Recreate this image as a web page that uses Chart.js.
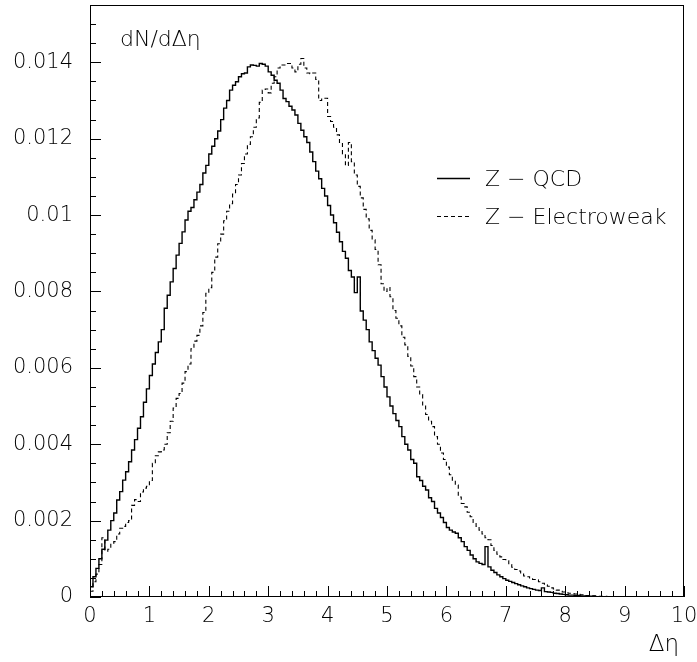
<!DOCTYPE html>
<html>
<head>
<meta charset="utf-8">
<script src="https://cdn.jsdelivr.net/npm/chart.js@4.4.0/dist/chart.umd.min.js"></script>
<style>
  html, body { margin: 0; padding: 0; background: #fff; }
  #wrap { width: 697px; height: 662px; position: relative; }
  canvas { display: block; }
</style>
</head>
<body>
<div id="wrap"><canvas id="c" width="697" height="662"></canvas></div>
<script>
// ---- data (histograms, 200 bins of width 0.05 from 0 to 10) ----
const xMin = 0;
const xMax = 10;
const binWidth = 0.05;

const qcd = [
  0.00027,0.00053,0.00075,0.00100,0.00125,0.00149,0.00175,0.00200,0.00220,0.00254,
  0.00276,0.00306,0.00328,0.00354,0.00385,0.00412,0.00442,0.00472,0.00510,0.00545,
  0.00580,0.00610,0.00640,0.00668,0.00700,0.00756,0.00790,0.00825,0.00860,0.00895,
  0.00926,0.00956,0.00987,0.01010,0.01020,0.01040,0.01060,0.01080,0.01110,0.01130,
  0.01160,0.01180,0.01200,0.01220,0.01250,0.01280,0.01300,0.01327,0.01340,0.01349,
  0.01362,0.01370,0.01372,0.01388,0.01393,0.01392,0.01390,0.01397,0.01395,0.01390,
  0.01375,0.01366,0.01353,0.01345,0.01327,0.01305,0.01297,0.01285,0.01275,0.01262,
  0.01240,0.01222,0.01205,0.01190,0.01165,0.01140,0.01115,0.01095,0.01070,0.01050,
  0.01025,0.01000,0.00980,0.00955,0.00930,0.00905,0.00887,0.00855,0.00838,0.00797,
  0.00838,0.00749,0.00725,0.00700,0.00668,0.00645,0.00625,0.00607,0.00577,0.00550,
  0.00524,0.00500,0.00480,0.00462,0.00446,0.00420,0.00400,0.00385,0.00360,0.00350,
  0.00315,0.00305,0.00290,0.00280,0.00260,0.00250,0.00232,0.00220,0.00208,0.00195,
  0.00182,0.00175,0.00170,0.00167,0.00155,0.00145,0.00132,0.00122,0.00110,0.00100,
  0.00092,0.00088,0.00085,0.00132,0.00079,0.00070,0.00064,0.00058,0.00053,0.00048,
  0.00044,0.00041,0.00038,0.00035,0.00032,0.00029,0.00027,0.00024,0.00022,0.00020,
  0.00018,0.00017,0.00024,0.00014,0.00013,0.00012,0.00010,0.00009,0.00008,0.00007,
  0.00006,0.00005,0.00005,0.00004,0.00004,0.00003,0.00003,0.00002,0.00002,0.00002,
  0.00001,0.00001,0.00001,0.00001,0,0,0,0,0,0,
  0,0,0,0,0,0,0,0,0,0,
  0,0,0,0,0,0,0,0,0,0
];

const electroweak = [
  0.00015,0.00040,0.00060,0.00085,0.00155,0.00120,0.00125,0.00140,0.00145,0.00165,
  0.00180,0.00185,0.00195,0.00200,0.00240,0.00255,0.00250,0.00275,0.00285,0.00290,
  0.00305,0.00350,0.00370,0.00380,0.00385,0.00400,0.00430,0.00460,0.00495,0.00520,
  0.00533,0.00560,0.00590,0.00610,0.00650,0.00670,0.00685,0.00710,0.00745,0.00795,
  0.00810,0.00850,0.00890,0.00925,0.00950,0.00985,0.01010,0.01030,0.01055,0.01080,
  0.01105,0.01135,0.01160,0.01185,0.01205,0.01230,0.01254,0.01295,0.01327,0.01330,
  0.01320,0.01345,0.01362,0.01385,0.01393,0.01393,0.01397,0.01397,0.01385,0.01375,
  0.01395,0.01410,0.01385,0.01372,0.01370,0.01372,0.01355,0.01300,0.01306,0.01306,
  0.01258,0.01245,0.01230,0.01210,0.01190,0.01160,0.01130,0.01190,0.01140,0.01105,
  0.01075,0.01045,0.01015,0.00990,0.00960,0.00935,0.00910,0.00870,0.00820,0.00800,
  0.00810,0.00786,0.00750,0.00730,0.00710,0.00680,0.00660,0.00630,0.00605,0.00577,
  0.00550,0.00530,0.00500,0.00478,0.00460,0.00446,0.00420,0.00400,0.00377,0.00360,
  0.00340,0.00320,0.00306,0.00293,0.00262,0.00245,0.00236,0.00222,0.00210,0.00195,
  0.00185,0.00175,0.00165,0.00155,0.00150,0.00135,0.00122,0.00112,0.00105,0.00098,
  0.00095,0.00085,0.00078,0.00072,0.00068,0.00060,0.00055,0.00053,0.00048,0.00046,
  0.00045,0.00040,0.00036,0.00032,0.00028,0.00024,0.00021,0.00018,0.00015,0.00013,
  0.00011,0.00010,0.00009,0.00008,0.00007,0.00006,0.00005,0.00004,0.00004,0.00003,
  0.00003,0.00002,0.00002,0.00002,0.00001,0.00001,0.00001,0,0,0,
  0,0,0,0,0,0,0,0,0,0,
  0,0,0,0,0,0,0,0,0,0
];

const xTickValues = [0,1,2,3,4,5,6,7,8,9,10];
const xTickLabels = ['0','1','2','3','4','5','6','7','8','9','10'];
const yTickValues = [0,0.002,0.004,0.006,0.008,0.010,0.012,0.014];
const yTickLabels = ['0','0.002','0.004','0.006','0.008','0.01','0.012','0.014'];
const yMax = 0.0155;
const xMinorStep = 0.2;
const yMinorStep = 0.0005;

const seriesNames = ['Z \u2212 QCD', 'Z \u2212 Electroweak'];
const yTitle = 'dN/d\u0394\u03B7';
const xTitle = '\u0394\u03B7';

// ---- build step-histogram points from bin lower edges ----
function histPoints(vals) {
  const pts = vals.map((v, i) => ({ x: xMin + i * binWidth, y: v }));
  pts.push({ x: xMax, y: vals[vals.length - 1] });
  return pts;
}

const FONT = '"DejaVu Sans", "Liberation Sans", sans-serif';

const decor = {
  id: 'decor',
  afterDatasetsDraw(chart) {
    const { ctx, chartArea: a, scales } = chart;
    const xs = scales.x, ys = scales.y;
    ctx.save();
    ctx.strokeStyle = '#000';
    ctx.lineWidth = 1;
    // frame
    ctx.strokeRect(a.left + 0.5, a.top + 0.5, a.right - a.left - 1, a.bottom - a.top - 1);
    ctx.beginPath();
    // x ticks (inside, from bottom)
    for (let k = 0; k <= Math.round((xMax - xMin) / xMinorStep); k++) {
      const v = xMin + k * xMinorStep;
      const px = Math.round(xs.getPixelForValue(v)) + 0.5;
      const major = Math.abs(v - Math.round(v)) < 1e-9;
      const len = major ? 11 : 6;
      ctx.moveTo(px, a.bottom);
      ctx.lineTo(px, a.bottom - len);
    }
    // y ticks (inside, from left)
    for (let k = 0; k * yMinorStep <= yMax + 1e-12; k++) {
      const v = k * yMinorStep;
      const py = Math.round(ys.getPixelForValue(v)) + 0.5;
      const major = (k % 4) === 0;
      const len = major ? 11 : 6;
      ctx.moveTo(a.left, py);
      ctx.lineTo(a.left + len, py);
    }
    ctx.stroke();

    // texts
    ctx.fillStyle = '#000';
    ctx.textBaseline = 'alphabetic';
    ctx.textAlign = 'left';
    ctx.font = '300 22px ' + FONT;
    ctx.fillText(yTitle, 120, 46);
    ctx.font = '300 23px ' + FONT;
    ctx.textAlign = 'right';
    ctx.fillText(xTitle, 679, 651);

    // legend
    ctx.textAlign = 'left';
    ctx.font = '300 22px ' + FONT;
    ctx.lineWidth = 1.3;
    ctx.beginPath();
    ctx.moveTo(437, 178.5); ctx.lineTo(470, 178.5);
    ctx.stroke();
    ctx.setLineDash([4, 3]);
    ctx.lineWidth = 1;
    ctx.beginPath();
    ctx.moveTo(437, 216.5); ctx.lineTo(471, 216.5);
    ctx.stroke();
    ctx.setLineDash([]);
    ctx.fillText(seriesNames[0], 485, 186);
    ctx.fillText(seriesNames[1], 485, 224);
    ctx.restore();
  }
};

new Chart(document.getElementById('c'), {
  type: 'line',
  data: {
    datasets: [
      {
        label: seriesNames[0],
        data: histPoints(qcd),
        stepped: true,
        borderColor: '#000',
        borderWidth: 1.4,
        pointRadius: 0,
        fill: false,
        tension: 0
      },
      {
        label: seriesNames[1],
        data: histPoints(electroweak),
        stepped: true,
        borderColor: '#000',
        borderWidth: 1.1,
        borderDash: [4, 3],
        pointRadius: 0,
        fill: false,
        tension: 0
      }
    ]
  },
  options: {
    responsive: false,
    devicePixelRatio: 1,
    animation: false,
    layout: { padding: { top: 5, right: 13, left: 0, bottom: 0 } },
    plugins: { legend: { display: false }, tooltip: { enabled: false }, title: { display: false } },
    scales: {
      x: {
        type: 'linear',
        min: xMin,
        max: xMax,
        grid: { display: false, drawTicks: false },
        border: { display: false },
        afterBuildTicks: s => { s.ticks = xTickValues.map(v => ({ value: v })); },
        afterFit: s => { s.height = 65; s.paddingLeft = 0; s.paddingRight = 0; },
        ticks: {
          color: '#000',
          padding: 7,
          maxRotation: 0,
          autoSkip: false,
          font: { family: FONT, size: 21, weight: '300' },
          callback: (v, i) => xTickLabels[i]
        }
      },
      y: {
        type: 'linear',
        min: 0,
        max: yMax,
        grid: { display: false, drawTicks: false },
        border: { display: false },
        afterBuildTicks: s => { s.ticks = yTickValues.map(v => ({ value: v })); },
        afterFit: s => { s.width = 90; s.paddingTop = 0; s.paddingBottom = 0; },
        ticks: {
          color: '#000',
          padding: 17,
          autoSkip: false,
          font: { family: FONT, size: 21, weight: '300' },
          callback: (v, i) => yTickLabels[i]
        }
      }
    }
  },
  plugins: [decor]
});
</script>
</body>
</html>
